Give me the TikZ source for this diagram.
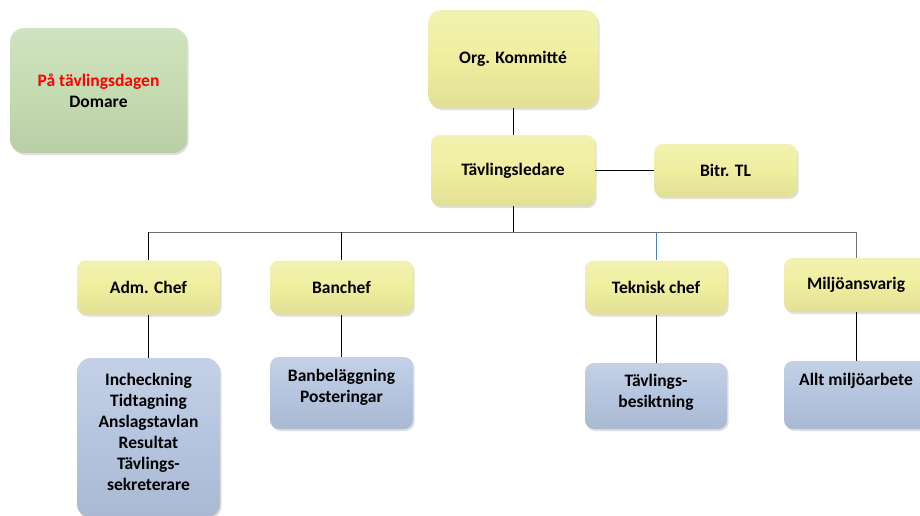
\documentclass[tikz,border=0pt]{standalone}
\usepackage{fontspec}
\setmainfont{Carlito}
\usetikzlibrary{shadows}
\definecolor{ybox}{HTML}{EFEE9E}
\definecolor{gbox}{HTML}{C5DBB1}
\definecolor{bbox}{HTML}{B5C5DF}
\definecolor{lgray}{HTML}{707070}
\definecolor{tblue}{HTML}{4F81BD}
\tikzset{
  base/.style={rounded corners=9pt, draw=none, font=\bfseries\fontsize{17.5}{21}\selectfont, align=center,
    drop shadow={shadow xshift=1.5pt, shadow yshift=-2pt, opacity=0.25}},
  ybx/.style={base, top color=ybox!80!white, bottom color=ybox!94!black, middle color=ybox},
  gbx/.style={base, rounded corners=14pt, top color=gbox!80!white, bottom color=gbox!94!black, middle color=gbox},
  bbx/.style={base, top color=bbox!80!white, bottom color=bbox!94!black, middle color=bbox},
  txt/.style={font=\bfseries\fontsize{17.5}{21}\selectfont, align=center, inner sep=0pt, anchor=north},
  conn/.style={draw=black, line width=0.8pt},
}
\begin{document}
\begin{tikzpicture}[x=1pt,y=-1pt]
\clip (0,0) rectangle (920,515);
\fill[white] (0,0) rectangle (920,515);
% top
\node[gbx, minimum width=177pt, minimum height=125pt] (dom) at (98.5,90.5) {\textcolor{red}{På tävlingsdagen}\\Domare};
\node[ybx, rounded corners=13pt, minimum width=170pt, minimum height=98pt] (org) at (513,59) {Org. Kommitté};
\node[ybx, minimum width=164pt, minimum height=71pt] (tl) at (513,170.5) {Tävlingsledare};
\node[ybx, minimum width=143pt, minimum height=53pt] (bitr) at (725.5,170.5) {Bitr. TL};
% second level
\node[ybx, minimum width=143pt, minimum height=54pt] (adm) at (148.5,287.5) {Adm. Chef};
\node[ybx, minimum width=143pt, minimum height=54pt] (ban) at (341.5,287.5) {Banchef};
\node[ybx, minimum width=142pt, minimum height=54pt] (tek) at (656,287.5) {Teknisk chef};
\node[ybx, minimum width=144pt, minimum height=54pt] (milj) at (856,285) {Miljöansvarig};
% third level boxes
\node[bbx, rounded corners=14pt, minimum width=143pt, minimum height=160pt] (admbox) at (148.5,438) {};
\node[bbx, minimum width=143pt, minimum height=72pt] (banbox) at (341.5,393) {};
\node[bbx, minimum width=142pt, minimum height=66pt] (tekbox) at (656,396) {};
\node[bbx, minimum width=144pt, minimum height=68pt] (miljbox) at (856,395) {};
\node[txt] (admtxt) at (148.5,373) {Incheckning\\Tidtagning\\Anslagstavlan\\Resultat\\Tävlings-\\sekreterare};
\node[txt] (bantxt) at (341.5,369) {Banbeläggning\\Posteringar};
\node[txt] (tektxt) at (656,374) {Tävlings-\\besiktning};
\node[txt] (miljtxt) at (856,373) {Allt miljöarbete};
% connectors
\coordinate (hub) at (513,232);
\coordinate (hl) at (148.5,232);
\coordinate (hr) at (856,232);
\draw[conn] (org.south) -- (tl.north);
\draw[conn] (tl.east) -- (bitr.west);
\draw[conn] (tl.south) -- (hub);
\draw[draw=lgray, line width=1pt] (hl) -- (hr);
\draw[conn] (hl) -- (adm.north);
\draw[conn] (ban.north |- hub) -- (ban.north);
\draw[draw=tblue, line width=0.6pt] (tek.north |- hub) -- (tek.north);
\draw[draw=lgray, line width=1pt] (hr) -- (milj.north);
\draw[conn] (adm.south) -- (admbox.north);
\draw[conn] (ban.south) -- (banbox.north);
\draw[conn] (tek.south) -- (tekbox.north);
\draw[conn] (milj.south) -- (miljbox.north);
\end{tikzpicture}
\end{document}
